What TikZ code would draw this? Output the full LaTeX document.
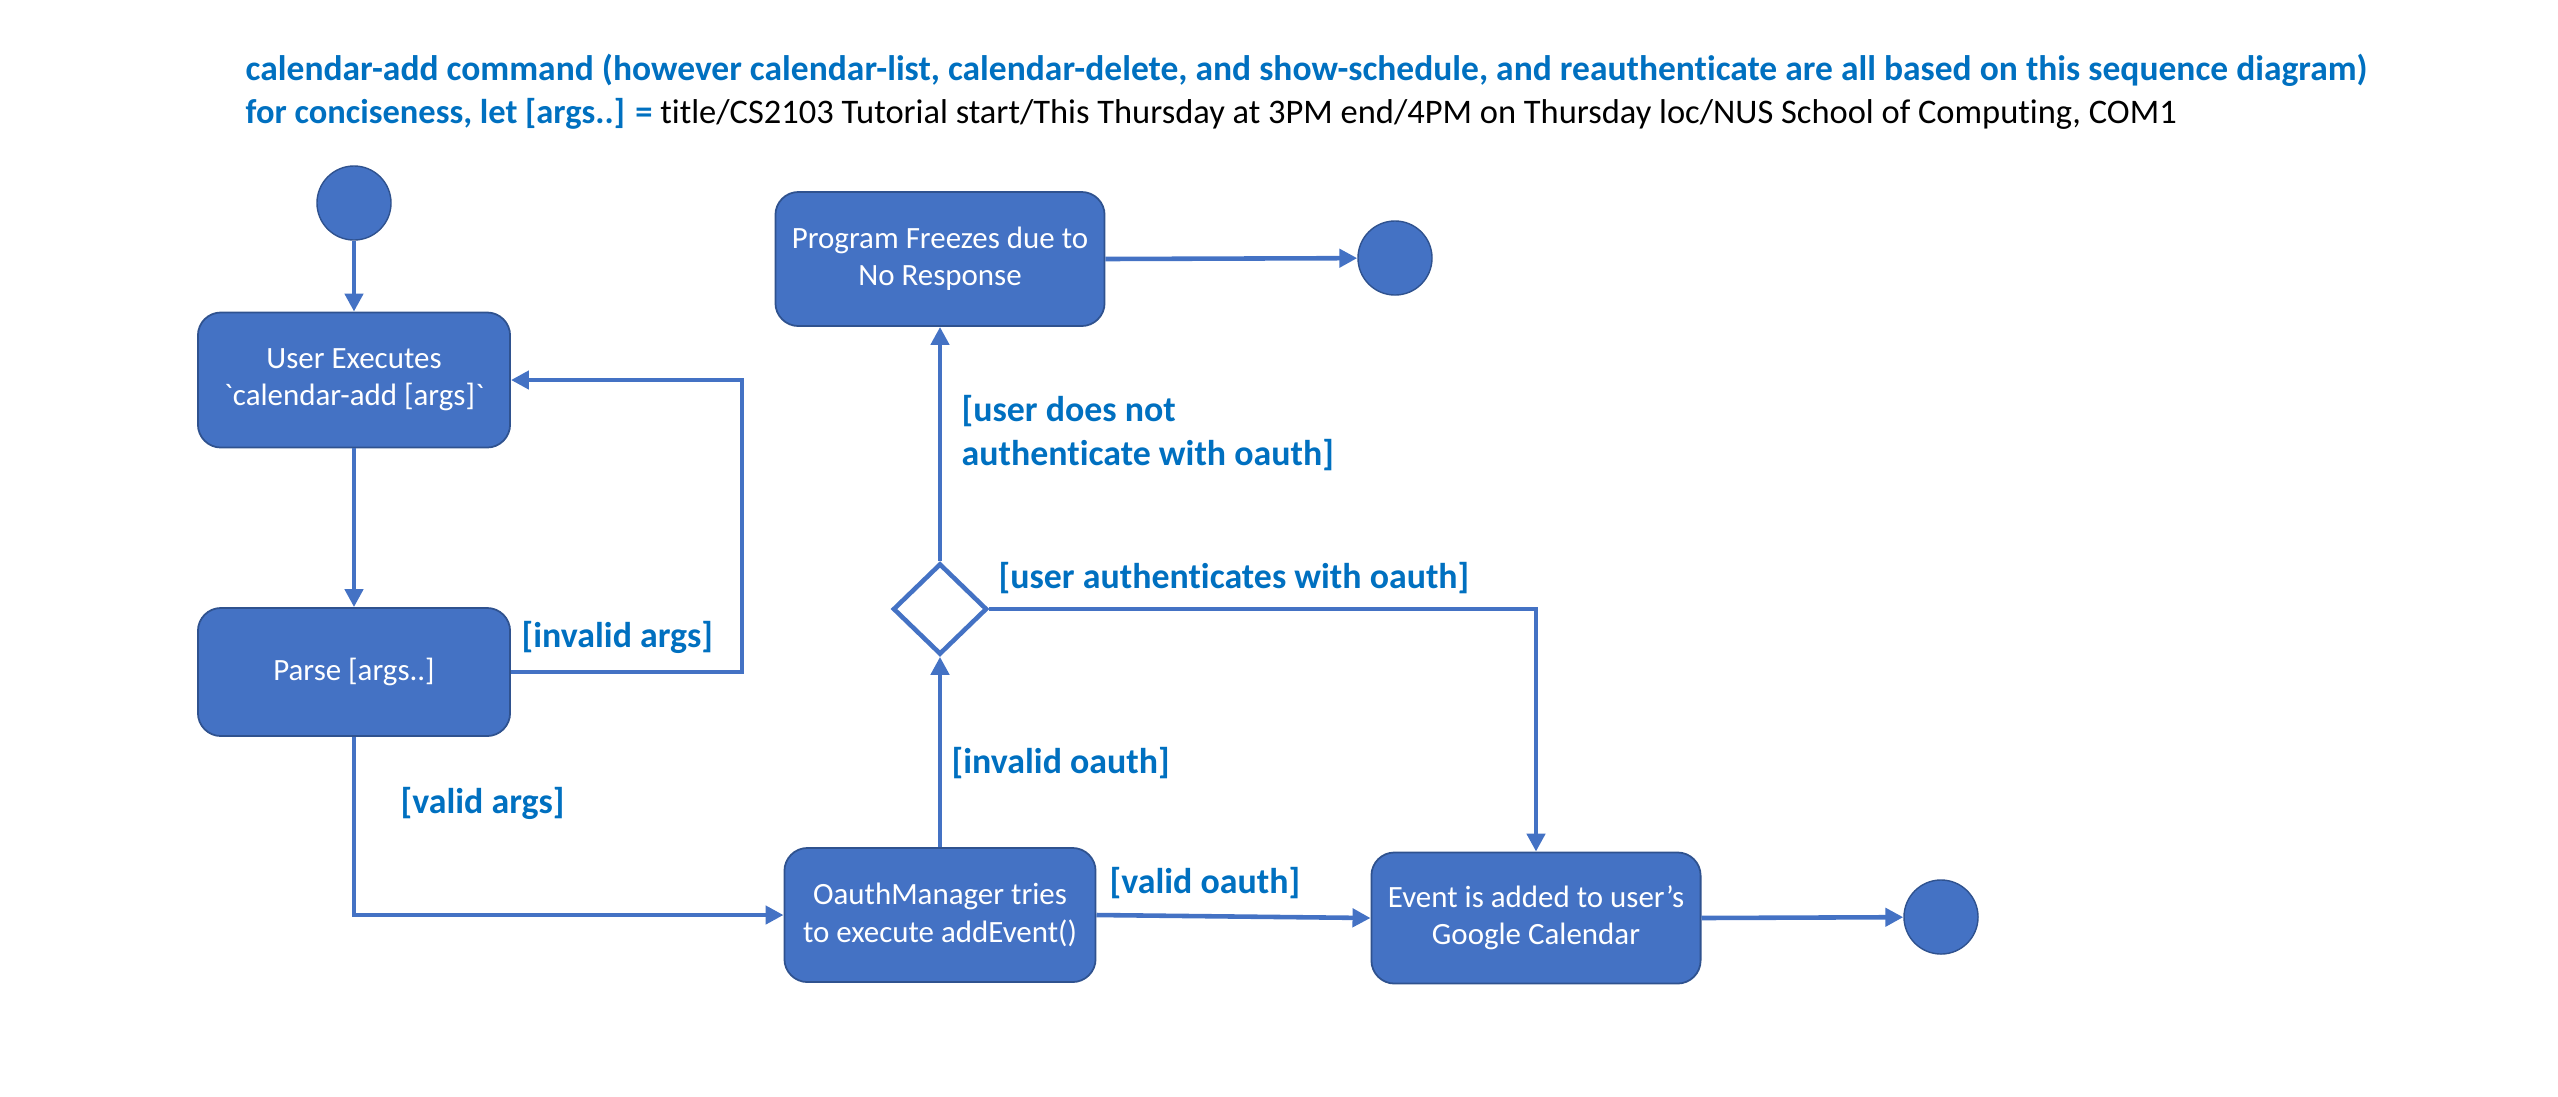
\documentclass[tikz,border=0pt]{standalone}
\usepackage{fontspec}
\setmainfont{Carlito}[Ligatures=NoCommon]
\usetikzlibrary{arrows.meta,shapes.geometric}
\definecolor{actB}{RGB}{68,114,196}
\definecolor{actE}{RGB}{47,82,143}
\definecolor{lblB}{RGB}{0,112,192}

\begin{document}
\begin{tikzpicture}[x={(0.01cm,0cm)},y={(0cm,-0.01cm)},>={Triangle[length=1.8mm,width=1.8mm]},
  act/.style={draw=actE,line width=0.5pt,fill=actB,rounded corners=2.3mm,text=white,align=center,inner sep=0pt,font=\fontsize{8.8}{10.6}\selectfont},
  dot/.style={circle,draw=actE,line width=0.4pt,fill=actB,minimum size=7.4mm,inner sep=0pt},
  guard/.style={text=lblB,font=\bfseries\fontsize{10.2}{12.3}\selectfont,anchor=west,inner sep=0pt,align=left},
  flow/.style={->,actB,line width=1.3pt}]
\useasboundingbox (0,0) rectangle (2558,1096);
% heading
\node[anchor=west,inner sep=0pt,text=lblB,font=\bfseries\fontsize{10.1}{12}\selectfont] (ttlA) at (245,70) {calendar-add command (however calendar-list, calendar-delete, and show-schedule, and reauthenticate are all based on this sequence diagram)};
\node[anchor=west,inner sep=0pt,font=\fontsize{9.8}{12}\selectfont] (ttlB) at (245,114) {{\color{lblB}\bfseries for conciseness, let [args..] =} title/CS2103 Tutorial start/This Thursday at 3PM end/4PM on Thursday loc/NUS School of Computing, COM1};
% activities
\node[dot] (start) at (354,203) {};
\node[act,minimum width=3.12cm,minimum height=1.35cm] (exec) at (354,380) {User Executes\\\textasciigrave calendar-add [args]\textasciigrave};
\node[act,minimum width=3.12cm,minimum height=1.28cm] (parse) at (354,672) {Parse [args..]};
\node[act,minimum width=3.29cm,minimum height=1.34cm] (freeze) at (940,259) {Program Freezes due to\\No Response};
\node[dot] (endA) at (1395,258) {};
\node[diamond,draw=actB,line width=1.3pt,fill=white,minimum width=0.94cm,minimum height=0.91cm,inner sep=0pt] (decide) at (940,609) {};
\node[act,minimum width=3.11cm,minimum height=1.34cm] (oauth) at (940,915) {OauthManager tries\\to execute addEvent()};
\node[act,minimum width=3.29cm,minimum height=1.31cm] (event) at (1536,918) {Event is added to user’s\\Google Calendar};
\node[dot] (endB) at (1941,917) {};
% flows
\coordinate (loopA) at (742,380);
\draw[flow] (start) -- (exec);
\draw[flow] (exec) -- (parse);
\draw[flow] (parse.east) -| (loopA) -- (exec.east);
\draw[flow] (parse.south) |- (oauth.west);
\draw[flow] (oauth.north) -- (decide.south);
\draw[flow] (decide.north) -- (freeze.south);
\draw[flow] (decide.east) -| (event.north);
\draw[flow] (oauth.east) -- (event.west);
\draw[flow] (freeze.east) -- (endA);
\draw[flow] (event.east) -- (endB);
% guards
\node[guard] (gInvArgs) at (521,637) {[invalid args]};
\node[guard] (gValArgs) at (400,803) {[valid args]};
\node[guard] (gNoAuth) at (961,433) {[user does not\\authenticate with oauth]};
\node[guard] (gAuth) at (998,578) {[user authenticates with oauth]};
\node[guard] (gInvOa) at (951,763) {[invalid oauth]};
\node[guard] (gValOa) at (1109,883) {[valid oauth]};
\end{tikzpicture}
\end{document}
